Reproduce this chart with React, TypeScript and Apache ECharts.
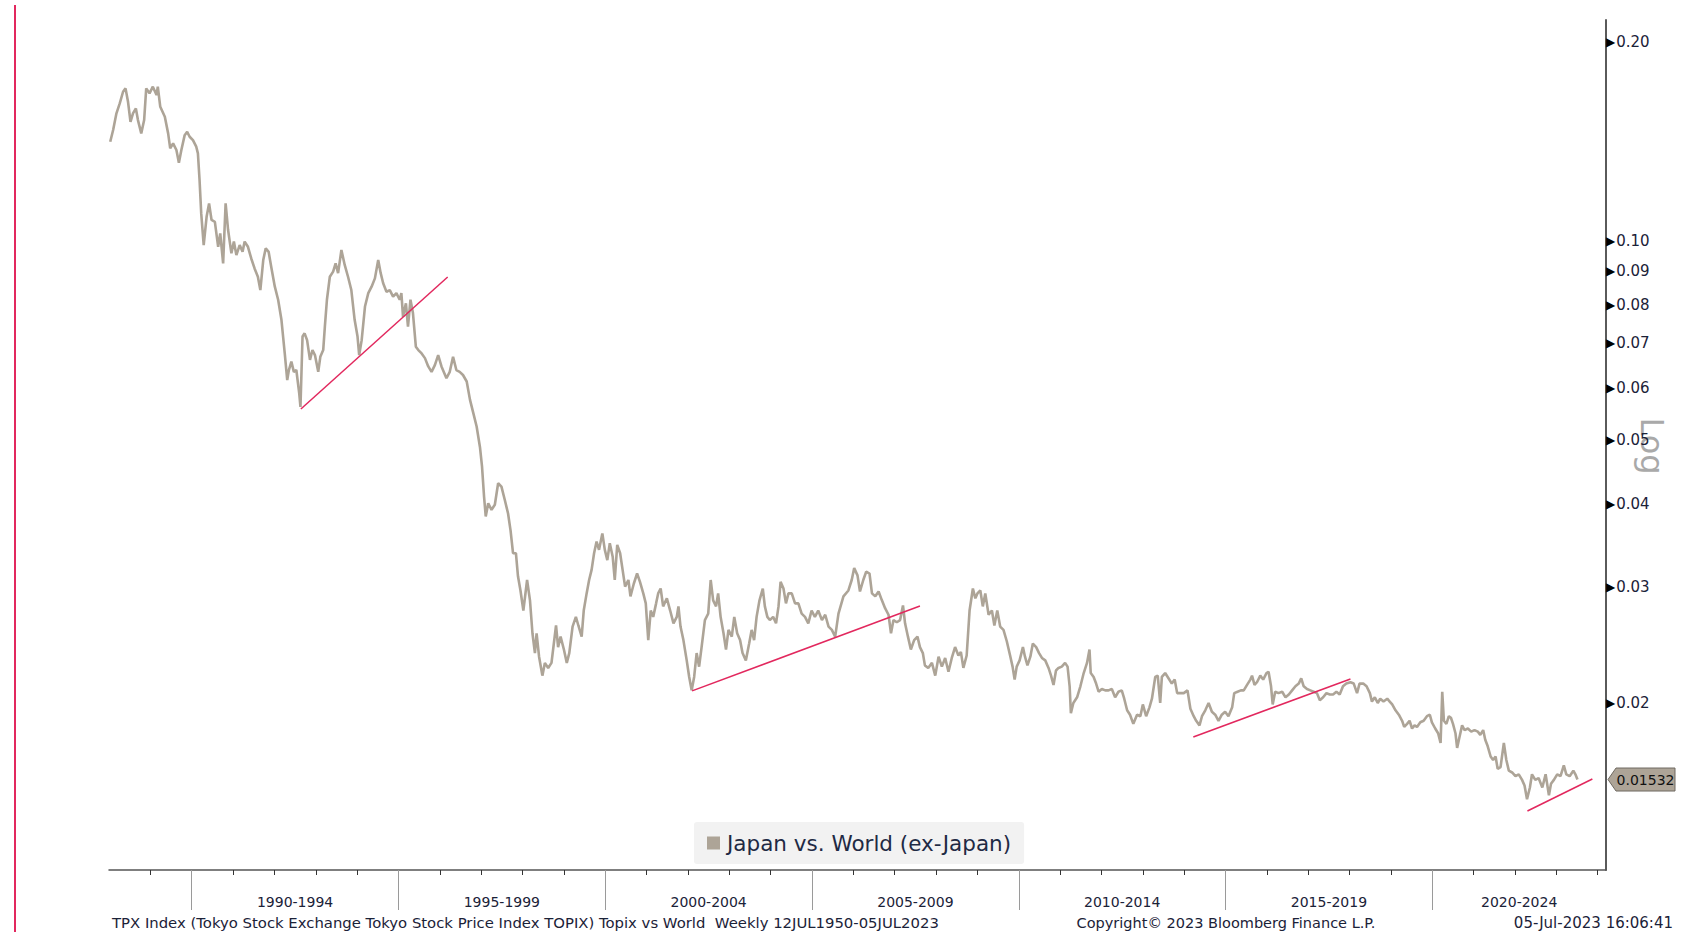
import React, { useEffect, useRef } from "react";
import * as echarts from "echarts";

const SERIES_NAME = "Japan vs. World (ex-Japan)";
const FONT = "'DejaVu Sans', sans-serif";

// Decimal years of the readings
const years: number[] = [
  1988.03, 1988.10, 1988.18, 1988.26, 1988.34, 1988.40, 1988.46, 1988.52, 1988.58, 1988.65,
  1988.70, 1988.78, 1988.85, 1988.90, 1988.98, 1989.06, 1989.15, 1989.18, 1989.24, 1989.35,
  1989.43, 1989.48, 1989.55, 1989.63, 1989.69, 1989.75, 1989.83, 1989.89, 1989.95, 1990.03,
  1990.11, 1990.15, 1990.19, 1990.23, 1990.29, 1990.36, 1990.42, 1990.48, 1990.56, 1990.64,
  1990.69, 1990.76, 1990.82, 1990.88, 1990.96, 1991.02, 1991.08, 1991.16, 1991.23, 1991.28,
  1991.36, 1991.44, 1991.52, 1991.60, 1991.66, 1991.73, 1991.79, 1991.86, 1991.93, 1992.01,
  1992.09, 1992.17, 1992.25, 1992.31, 1992.35, 1992.41, 1992.47, 1992.53, 1992.60, 1992.63,
  1992.68, 1992.73, 1992.79, 1992.86, 1992.92, 1992.98, 1993.06, 1993.11, 1993.18, 1993.22,
  1993.27, 1993.34, 1993.42, 1993.48, 1993.54, 1993.62, 1993.70, 1993.78, 1993.86, 1993.94,
  1994.01, 1994.05, 1994.11, 1994.19, 1994.27, 1994.35, 1994.43, 1994.51, 1994.57, 1994.63,
  1994.71, 1994.79, 1994.87, 1994.95, 1995.03, 1995.07, 1995.11, 1995.18, 1995.23, 1995.29,
  1995.35, 1995.42, 1995.48, 1995.56, 1995.64, 1995.72, 1995.80, 1995.88, 1995.96, 1996.04,
  1996.16, 1996.24, 1996.32, 1996.40, 1996.48, 1996.56, 1996.65, 1996.73, 1996.81, 1996.89,
  1996.97, 1997.02, 1997.07, 1997.11, 1997.17, 1997.25, 1997.33, 1997.41, 1997.49, 1997.57,
  1997.65, 1997.71, 1997.77, 1997.84, 1997.89, 1997.95, 1998.02, 1998.11, 1998.18, 1998.24,
  1998.30, 1998.34, 1998.40, 1998.48, 1998.54, 1998.62, 1998.70, 1998.81, 1998.86, 1998.92,
  1999.00, 1999.07, 1999.13, 1999.21, 1999.29, 1999.35, 1999.43, 1999.48, 1999.55, 1999.61,
  1999.67, 1999.73, 1999.79, 1999.85, 1999.93, 1999.99, 2000.05, 2000.11, 2000.18, 2000.23,
  2000.29, 2000.36, 2000.42, 2000.48, 2000.56, 2000.61, 2000.69, 2000.77, 2000.84, 2000.92,
  2000.98, 2001.04, 2001.10, 2001.16, 2001.23, 2001.28, 2001.34, 2001.40, 2001.49, 2001.57,
  2001.65, 2001.73, 2001.77, 2001.82, 2001.89, 2001.97, 2002.03, 2002.09, 2002.15, 2002.21,
  2002.27, 2002.33, 2002.41, 2002.49, 2002.55, 2002.61, 2002.68, 2002.73, 2002.79, 2002.86,
  2002.92, 2002.98, 2003.06, 2003.12, 2003.19, 2003.26, 2003.32, 2003.40, 2003.48, 2003.54,
  2003.60, 2003.66, 2003.73, 2003.81, 2003.86, 2003.92, 2003.98, 2004.06, 2004.13, 2004.19,
  2004.24, 2004.31, 2004.37, 2004.43, 2004.51, 2004.59, 2004.67, 2004.75, 2004.83, 2004.91,
  2004.99, 2005.07, 2005.15, 2005.24, 2005.32, 2005.40, 2005.48, 2005.56, 2005.64, 2005.76,
  2005.88, 2005.96, 2006.02, 2006.10, 2006.16, 2006.24, 2006.31, 2006.39, 2006.45, 2006.53,
  2006.61, 2006.69, 2006.77, 2006.85, 2006.91, 2006.97, 2007.05, 2007.13, 2007.20, 2007.25,
  2007.32, 2007.39, 2007.47, 2007.55, 2007.61, 2007.68, 2007.73, 2007.81, 2007.90, 2007.98,
  2008.06, 2008.14, 2008.22, 2008.30, 2008.38, 2008.46, 2008.54, 2008.60, 2008.66, 2008.74,
  2008.81, 2008.89, 2008.95, 2009.00, 2009.07, 2009.13, 2009.19, 2009.27, 2009.35, 2009.41,
  2009.48, 2009.55, 2009.63, 2009.71, 2009.79, 2009.85, 2009.90, 2009.95, 2010.02, 2010.10,
  2010.15, 2010.21, 2010.28, 2010.34, 2010.42, 2010.49, 2010.56, 2010.64, 2010.72, 2010.78,
  2010.84, 2010.90, 2010.96, 2011.04, 2011.12, 2011.18, 2011.23, 2011.26, 2011.32, 2011.41,
  2011.49, 2011.57, 2011.65, 2011.71, 2011.74, 2011.81, 2011.87, 2011.93, 2012.01, 2012.09,
  2012.17, 2012.25, 2012.33, 2012.41, 2012.49, 2012.55, 2012.62, 2012.69, 2012.77, 2012.86,
  2012.94, 2013.00, 2013.08, 2013.16, 2013.22, 2013.30, 2013.36, 2013.42, 2013.46, 2013.54,
  2013.62, 2013.70, 2013.77, 2013.83, 2013.91, 2013.99, 2014.08, 2014.15, 2014.23, 2014.29,
  2014.37, 2014.43, 2014.51, 2014.59, 2014.67, 2014.75, 2014.83, 2014.91, 2014.99, 2015.07,
  2015.16, 2015.21, 2015.29, 2015.37, 2015.44, 2015.52, 2015.60, 2015.64, 2015.70, 2015.76,
  2015.84, 2015.91, 2015.99, 2016.04, 2016.10, 2016.14, 2016.20, 2016.28, 2016.37, 2016.45,
  2016.53, 2016.61, 2016.69, 2016.77, 2016.83, 2016.89, 2016.97, 2017.05, 2017.13, 2017.21,
  2017.28, 2017.36, 2017.44, 2017.52, 2017.60, 2017.68, 2017.76, 2017.84, 2017.92, 2018.02,
  2018.10, 2018.18, 2018.24, 2018.33, 2018.41, 2018.49, 2018.54, 2018.61, 2018.68, 2018.74,
  2018.82, 2018.91, 2018.97, 2019.03, 2019.11, 2019.19, 2019.27, 2019.32, 2019.39, 2019.45,
  2019.51, 2019.57, 2019.63, 2019.71, 2019.79, 2019.87, 2019.94, 2019.99, 2020.07, 2020.14,
  2020.20, 2020.24, 2020.28, 2020.34, 2020.40, 2020.45, 2020.50, 2020.56, 2020.60, 2020.66,
  2020.72, 2020.78, 2020.86, 2020.94, 2021.02, 2021.10, 2021.16, 2021.23, 2021.28, 2021.34,
  2021.41, 2021.47, 2021.53, 2021.58, 2021.65, 2021.73, 2021.79, 2021.85, 2021.93, 2022.01,
  2022.09, 2022.17, 2022.23, 2022.29, 2022.36, 2022.41, 2022.49, 2022.57, 2022.66, 2022.74,
  2022.82, 2022.87, 2022.94, 2023.02, 2023.10, 2023.18, 2023.24, 2023.32, 2023.41, 2023.46,
  2023.51,
];

// Japan vs. World (ex-Japan) relative ratio
const ratio: number[] = [
  0.1413, 0.1472, 0.1560, 0.1615, 0.1682, 0.1702, 0.1624, 0.1515, 0.1560, 0.1587,
  0.1524, 0.1455, 0.1524, 0.1702, 0.1673, 0.1712, 0.1663, 0.1712, 0.1596, 0.1542,
  0.1455, 0.1381, 0.1405, 0.1373, 0.1313, 0.1373, 0.1446, 0.1463, 0.1438, 0.1421,
  0.1389, 0.1357, 0.1236, 0.1101, 0.0986, 0.1088, 0.1140, 0.1076, 0.1069, 0.0980,
  0.1027, 0.0925, 0.1140, 0.1039, 0.0958, 0.0998, 0.0952, 0.0986, 0.0963, 0.0998,
  0.0980, 0.0941, 0.0909, 0.0883, 0.0843, 0.0936, 0.0975, 0.0963, 0.0909, 0.0853,
  0.0815, 0.0760, 0.0676, 0.0616, 0.0638, 0.0657, 0.0634, 0.0638, 0.0588, 0.0561,
  0.0717, 0.0725, 0.0708, 0.0661, 0.0684, 0.0672, 0.0634, 0.0668, 0.0684, 0.0742,
  0.0815, 0.0883, 0.0899, 0.0925, 0.0894, 0.0969, 0.0920, 0.0883, 0.0843, 0.0760,
  0.0717, 0.0672, 0.0708, 0.0796, 0.0834, 0.0853, 0.0878, 0.0936, 0.0894, 0.0863,
  0.0838, 0.0843, 0.0824, 0.0834, 0.0815, 0.0834, 0.0768, 0.0805, 0.0742, 0.0815,
  0.0778, 0.0692, 0.0684, 0.0676, 0.0665, 0.0646, 0.0634, 0.0649, 0.0672, 0.0646,
  0.0620, 0.0634, 0.0668, 0.0638, 0.0634, 0.0627, 0.0613, 0.0575, 0.0549, 0.0524,
  0.0488, 0.0456, 0.0410, 0.0383, 0.0401, 0.0392, 0.0399, 0.0430, 0.0425, 0.0406,
  0.0387, 0.0365, 0.0337, 0.0337, 0.0311, 0.0296, 0.0276, 0.0307, 0.0286, 0.0255,
  0.0238, 0.0255, 0.0235, 0.0220, 0.0230, 0.0226, 0.0230, 0.0262, 0.0243, 0.0252,
  0.0241, 0.0230, 0.0238, 0.0261, 0.0270, 0.0262, 0.0252, 0.0276, 0.0293, 0.0307,
  0.0318, 0.0337, 0.0351, 0.0341, 0.0361, 0.0341, 0.0329, 0.0349, 0.0333, 0.0307,
  0.0347, 0.0337, 0.0318, 0.0300, 0.0307, 0.0290, 0.0303, 0.0314, 0.0305, 0.0293,
  0.0283, 0.0249, 0.0276, 0.0270, 0.0283, 0.0293, 0.0298, 0.0280, 0.0288, 0.0276,
  0.0264, 0.0270, 0.0280, 0.0261, 0.0249, 0.0232, 0.0219, 0.0209, 0.0219, 0.0238,
  0.0227, 0.0243, 0.0267, 0.0273, 0.0307, 0.0286, 0.0280, 0.0293, 0.0270, 0.0255,
  0.0241, 0.0258, 0.0252, 0.0270, 0.0255, 0.0249, 0.0238, 0.0232, 0.0246, 0.0258,
  0.0249, 0.0270, 0.0286, 0.0298, 0.0280, 0.0270, 0.0267, 0.0270, 0.0264, 0.0280,
  0.0305, 0.0298, 0.0283, 0.0293, 0.0293, 0.0283, 0.0283, 0.0273, 0.0270, 0.0264,
  0.0276, 0.0270, 0.0276, 0.0267, 0.0272, 0.0261, 0.0258, 0.0252, 0.0273, 0.0290,
  0.0296, 0.0307, 0.0320, 0.0312, 0.0295, 0.0307, 0.0316, 0.0314, 0.0293, 0.0290,
  0.0295, 0.0286, 0.0278, 0.0272, 0.0255, 0.0267, 0.0265, 0.0267, 0.0281, 0.0264,
  0.0252, 0.0241, 0.0249, 0.0252, 0.0243, 0.0238, 0.0228, 0.0226, 0.0230, 0.0220,
  0.0235, 0.0227, 0.0234, 0.0223, 0.0234, 0.0243, 0.0236, 0.0239, 0.0226, 0.0236,
  0.0276, 0.0298, 0.0288, 0.0293, 0.0296, 0.0280, 0.0293, 0.0272, 0.0276, 0.0262,
  0.0276, 0.0261, 0.0258, 0.0248, 0.0236, 0.0227, 0.0217, 0.0227, 0.0232, 0.0243,
  0.0235, 0.0228, 0.0235, 0.0246, 0.0243, 0.0238, 0.0234, 0.0232, 0.0226, 0.0220,
  0.0213, 0.0224, 0.0226, 0.0227, 0.0230, 0.0227, 0.0212, 0.0193, 0.0200, 0.0204,
  0.0212, 0.0222, 0.0230, 0.0241, 0.0222, 0.0219, 0.0214, 0.0208, 0.0210, 0.0209,
  0.0209, 0.0210, 0.0204, 0.0208, 0.0209, 0.0203, 0.0195, 0.0192, 0.0186, 0.0192,
  0.0191, 0.0199, 0.0191, 0.0197, 0.0203, 0.0219, 0.0220, 0.0200, 0.0219, 0.0222,
  0.0218, 0.0214, 0.0217, 0.0207, 0.0207, 0.0207, 0.0209, 0.0196, 0.0191, 0.0188,
  0.0185, 0.0191, 0.0195, 0.0200, 0.0194, 0.0192, 0.0188, 0.0192, 0.0194, 0.0191,
  0.0197, 0.0207, 0.0208, 0.0209, 0.0209, 0.0213, 0.0217, 0.0220, 0.0213, 0.0215,
  0.0220, 0.0217, 0.0222, 0.0223, 0.0212, 0.0199, 0.0208, 0.0207, 0.0208, 0.0204,
  0.0206, 0.0209, 0.0212, 0.0214, 0.0218, 0.0212, 0.0210, 0.0209, 0.0208, 0.0207,
  0.0202, 0.0204, 0.0207, 0.0206, 0.0206, 0.0208, 0.0206, 0.0212, 0.0214, 0.0215,
  0.0214, 0.0207, 0.0214, 0.0214, 0.0212, 0.0207, 0.0201, 0.0204, 0.0200, 0.0203,
  0.0201, 0.0203, 0.0201, 0.0199, 0.0195, 0.0192, 0.0188, 0.0184, 0.0186, 0.0188,
  0.0183, 0.0185, 0.0184, 0.0187, 0.0188, 0.0191, 0.0192, 0.0187, 0.0183, 0.0180,
  0.0174, 0.0208, 0.0188, 0.0186, 0.0191, 0.0190, 0.0186, 0.0180, 0.0171, 0.0178,
  0.0185, 0.0182, 0.0183, 0.0181, 0.0182, 0.0181, 0.0179, 0.0182, 0.0176, 0.0172,
  0.0166, 0.0164, 0.0166, 0.0159, 0.0160, 0.0174, 0.0164, 0.0158, 0.0157, 0.0155,
  0.0156, 0.0153, 0.0150, 0.0143, 0.0149, 0.0156, 0.0153, 0.0154, 0.0149, 0.0156,
  0.0145, 0.0151, 0.0153, 0.0156, 0.0155, 0.0161, 0.0156, 0.0155, 0.0158, 0.0156,
  0.01532,
];

// Hand-drawn support lines (start / end)
const trendStartYear = [1992.64, 2002.1, 2014.22, 2022.3];
const trendStartValue = [0.0557, 0.02086, 0.01777, 0.01373];
const trendEndYear = [1996.19, 2007.61, 2018.02, 2023.87];
const trendEndValue = [0.0882, 0.02804, 0.02175, 0.01535];

// Axes
const yTickValues = [0.02, 0.03, 0.04, 0.05, 0.06, 0.07, 0.08, 0.09, 0.1, 0.2];
const periodStartYears = [1990, 1995, 2000, 2005, 2010, 2015, 2020];
const periodLabels = ["1990-1994", "1995-1999", "2000-2004", "2005-2009", "2010-2014", "2015-2019", "2020-2024"];
const yearTicks = [
  1989, 1990, 1991, 1992, 1993, 1994, 1995, 1996, 1997, 1998, 1999, 2000, 2001, 2002, 2003, 2004, 2005, 2006,
  2007, 2008, 2009, 2010, 2011, 2012, 2013, 2014, 2015, 2016, 2017, 2018, 2019, 2020, 2021, 2022, 2023, 2024,
];
const X_MIN = 1988;
const X_MAX = 2024.2;
const Y_MIN_VALUE = 0.011178;
const Y_MAX_VALUE = 0.21597;

const footerLeft =
  "TPX Index (Tokyo Stock Exchange Tokyo Stock Price Index TOPIX) Topix vs World  Weekly 12JUL1950-05JUL2023";
const footerMid = "Copyright\u00a9 2023 Bloomberg Finance L.P.";
const footerRight = "05-Jul-2023 16:06:41";
const lastLabel = "0.01532";

const LINE_COLOR = "#ADA497";
const TREND_COLOR = "#E2285E";
const TEXT_COLOR = "#1B2238";

export default function App() {
  const ref = useRef<HTMLDivElement>(null);

  useEffect(() => {
    if (!ref.current) return;
    const chart = echarts.init(ref.current, undefined, { renderer: "svg" });
    const log = (v: number) => Math.log10(v);

    // label sits in the middle of the visible part of each 5-year block
    const periodCenters = periodStartYears.map((y) => (y + Math.min(y + 5, X_MAX)) / 2);

    const trendSeries = trendStartYear.map((y, i) => ({
      type: "line",
      data: [
        [y, log(trendStartValue[i])],
        [trendEndYear[i], log(trendEndValue[i])],
      ],
      symbol: "none",
      silent: true,
      z: 3,
      lineStyle: { color: TREND_COLOR, width: 1.5 },
    }));

    const option: any = {
      animation: false,
      backgroundColor: "#ffffff",
      grid: { left: 109, right: 76, top: 20, bottom: 62, containLabel: false, outerBoundsMode: "none" },
      legend: {
        data: [SERIES_NAME],
        left: 694,
        top: 822,
        backgroundColor: "#F2F2F2",
        borderRadius: 3,
        padding: [10, 13, 10, 13],
        icon: "rect",
        itemWidth: 13,
        itemHeight: 13,
        selectedMode: false,
        textStyle: { fontFamily: FONT, fontSize: 21.5, color: "#1F2A44", padding: [0, 0, 0, 2] },
      },
      xAxis: [
        {
          type: "value",
          min: X_MIN,
          max: X_MAX,
          position: "bottom",
          axisLine: { show: true, onZero: false, lineStyle: { color: "#555555", width: 1.5 } },
          axisTick: { show: true, customValues: yearTicks, length: 5, lineStyle: { color: "#333333", width: 1 } },
          axisLabel: {
            show: true,
            customValues: periodCenters,
            margin: 24,
            fontFamily: FONT,
            fontSize: 14,
            lineHeight: 15,
            color: TEXT_COLOR,
            formatter: (v: number) => {
              let best = 0;
              periodCenters.forEach((c, i) => {
                if (Math.abs(c - v) < Math.abs(periodCenters[best] - v)) best = i;
              });
              return periodLabels[best];
            },
          },
          splitLine: { show: false },
        },
        {
          type: "value",
          min: X_MIN,
          max: X_MAX,
          position: "bottom",
          axisLine: { show: false, onZero: false },
          axisTick: { show: true, customValues: periodStartYears, length: 40, lineStyle: { color: "#9A9A9A", width: 1 } },
          axisLabel: { show: false },
          splitLine: { show: false },
        },
      ],
      yAxis: {
        type: "value",
        position: "right",
        min: log(Y_MIN_VALUE),
        max: log(Y_MAX_VALUE),
        axisLine: { show: true, onZero: false, lineStyle: { color: "#5A5A5A", width: 2 } },
        axisTick: { show: false },
        splitLine: { show: false },
        axisLabel: {
          show: true,
          customValues: yTickValues.map(log),
          margin: 0,
          formatter: (v: number) => `{t|\u25B6}{n|${Math.pow(10, v).toFixed(2)}}`,
          rich: {
            t: { fontFamily: "DejaVu Sans", fontSize: 12, color: "#000000", padding: [0, 1, 0, 0], verticalAlign: "middle" },
            n: { fontFamily: FONT, fontSize: 15, color: TEXT_COLOR, verticalAlign: "middle" },
          },
        },
      },
      series: [
        {
          name: SERIES_NAME,
          type: "line",
          data: years.map((y, i) => [y, log(ratio[i])]),
          symbol: "none",
          showSymbol: false,
          silent: true,
          z: 2,
          lineStyle: { color: LINE_COLOR, width: 2.6 },
          itemStyle: { color: LINE_COLOR },
        },
        ...trendSeries,
      ],
    };
    chart.setOption(option);

    const yLast = chart.convertToPixel({ yAxisIndex: 0 }, log(ratio[ratio.length - 1])) as number;
    const tagLeft = 1608;
    const tagRight = 1675;
    const h = 11.5;

    chart.setOption({
      graphic: {
        elements: [
          {
            type: "line",
            shape: { x1: 15, y1: 5, x2: 15, y2: 932 },
            style: { stroke: TREND_COLOR, lineWidth: 2 },
            silent: true,
          },
          {
            type: "text",
            x: 1652,
            y: 446,
            rotation: -Math.PI / 2,
            style: {
              text: "Log",
              fontFamily: FONT,
              fontSize: 32,
              fill: "#A9A9A9",
              align: "center",
              verticalAlign: "middle",
            },
            silent: true,
          },
          {
            type: "polygon",
            shape: {
              points: [
                [tagLeft, yLast],
                [tagLeft + 8, yLast - h],
                [tagRight, yLast - h],
                [tagRight, yLast + h],
                [tagLeft + 8, yLast + h],
              ],
            },
            style: { fill: LINE_COLOR, stroke: "#6E6961", lineWidth: 1 },
            silent: true,
          },
          {
            type: "text",
            x: (tagLeft + 8 + tagRight) / 2,
            y: yLast,
            style: {
              text: lastLabel,
              fontFamily: FONT,
              fontSize: 14,
              fill: "#111111",
              align: "center",
              verticalAlign: "middle",
            },
            silent: true,
          },
          {
            type: "text",
            x: 112,
            y: 923,
            style: { text: footerLeft, fontFamily: FONT, fontSize: 14.85, fill: TEXT_COLOR, align: "left", verticalAlign: "middle" },
            silent: true,
          },
          {
            type: "text",
            x: 1226,
            y: 923,
            style: { text: footerMid, fontFamily: FONT, fontSize: 14.5, fill: TEXT_COLOR, align: "center", verticalAlign: "middle" },
            silent: true,
          },
          {
            type: "text",
            x: 1673,
            y: 923,
            style: { text: footerRight, fontFamily: FONT, fontSize: 15, fill: TEXT_COLOR, align: "right", verticalAlign: "middle" },
            silent: true,
          },
        ],
      },
    });

    return () => {
      chart.dispose();
    };
  }, []);

  return (
    <div
      ref={ref}
      style={{ position: "fixed", left: 0, top: 0, width: 1682, height: 932, background: "#ffffff" }}
    />
  );
}
